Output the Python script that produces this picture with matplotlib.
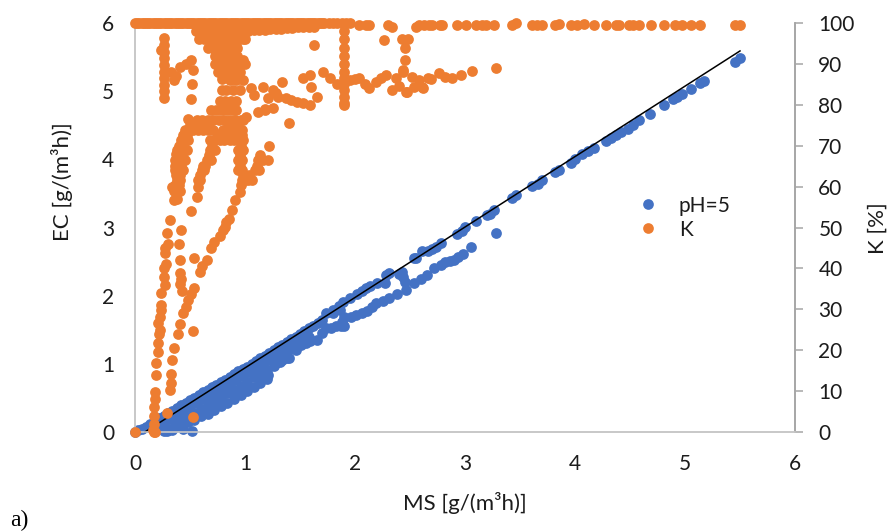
import matplotlib
matplotlib.use("Agg")
import matplotlib.pyplot as plt
from matplotlib.lines import Line2D

plt.rcParams['font.family'] = ['Lato', 'DejaVu Sans']

# ---- pH=5 series: MS, EC
ph_fan_upper_ms = [0.0,0.03,0.06,0.1,0.14,0.18,0.22,0.26,0.3,0.34,0.38,0.42,0.46,0.5,0.54,0.58,0.62,0.66,0.7,0.74,0.78,0.82,0.86,0.9,0.94,0.98,1.02,1.06,1.1,1.14,1.18,1.22,1.26,1.3,1.34,1.38,1.42,1.46,1.5,1.54,1.58,1.62,1.66,1.7]
ph_fan_upper_ec = [0.0,0.03,0.05,0.08,0.12,0.16,0.2,0.24,0.28,0.31,0.35,0.39,0.43,0.47,0.5,0.54,0.58,0.62,0.66,0.69,0.73,0.77,0.81,0.85,0.89,0.92,0.96,1.0,1.04,1.08,1.12,1.16,1.2,1.24,1.28,1.32,1.36,1.4,1.44,1.48,1.52,1.56,1.6,1.64]
ph_fan_a_ms = [0.2,0.26,0.32,0.38,0.44,0.5,0.56,0.62,0.68,0.74,0.8,0.86,0.92,0.98,1.04,1.1,1.16,1.22,1.28,1.34,1.4,1.46,1.52,1.58]
ph_fan_a_ec = [0.07,0.13,0.19,0.24,0.30,0.36,0.42,0.48,0.53,0.59,0.65,0.71,0.76,0.82,0.88,0.94,0.99,1.05,1.11,1.17,1.22,1.28,1.34,1.4]
ph_fan_b_ms = [0.3,0.36,0.42,0.48,0.54,0.6,0.66,0.72,0.78,0.84,0.9,0.96,1.02,1.08,1.14,1.2,1.26,1.32,1.38]
ph_fan_b_ec = [0.05,0.11,0.16,0.22,0.28,0.34,0.39,0.45,0.51,0.57,0.62,0.68,0.74,0.80,0.85,0.91,0.97,1.03,1.08]
ph_fan_low_ms = [0.26,0.3,0.36,0.42,0.48,0.54,0.6,0.66,0.72,0.78,0.84,0.9,0.96,1.02,1.08,1.14,1.2,1.21]
ph_fan_low_ec = [0.02,0.03,0.07,0.1,0.14,0.18,0.23,0.27,0.33,0.38,0.43,0.49,0.55,0.6,0.66,0.72,0.78,0.83]
ph_single_ms = [0.52,0.29,0.34,0.44]
ph_single_ec = [0.02,0.01,0.03,0.05]
ph_lower_ms = [1.28,1.34,1.40,1.46,1.51,1.55,1.59,1.65,1.70,1.74,1.78,1.83,1.87,1.90,1.90,1.88,1.86,1.80,1.96,2.01,2.06,2.11,2.15,2.19,2.25,2.31,2.38,2.46,2.43,2.44,2.45,2.54,2.28,2.31,2.27,2.40,2.60,2.65,2.72,2.78,2.82,2.86,2.90,2.94,2.98,3.05,3.28]
ph_lower_ec = [1.01,1.05,1.08,1.2,1.28,1.3,1.33,1.35,1.45,1.52,1.53,1.55,1.55,1.55,1.69,1.62,1.79,1.75,1.68,1.72,1.75,1.78,1.83,1.89,1.92,1.96,2.02,2.08,2.35,2.27,2.2,2.18,2.30,2.33,2.18,2.32,2.25,2.3,2.4,2.45,2.5,2.51,2.53,2.57,2.61,2.71,2.92]
ph_upper_ms = [1.74,1.80,1.85,1.89,1.95,2.02,2.06,2.10,2.14,2.20,2.55,2.54,2.61,2.66,2.70,2.74,2.78,2.93,2.97,3.0,3.10,3.2,3.23,3.26,3.43,3.46,3.61,3.66,3.70,3.82,3.85,3.96,4.0,4.06,4.12,4.17,4.28,4.33,4.37,4.42,4.48,4.53,4.58,4.68,4.81,4.89,4.93,4.97,5.05,5.14,5.17,5.45,5.5]
ph_upper_ec = [1.74,1.79,1.85,1.91,1.96,2.03,2.07,2.11,2.14,2.18,2.55,2.55,2.65,2.66,2.69,2.72,2.77,2.91,2.95,3.01,3.09,3.18,3.2,3.26,3.43,3.48,3.61,3.64,3.69,3.81,3.84,3.94,4.0,4.08,4.12,4.16,4.27,4.31,4.36,4.4,4.45,4.5,4.57,4.66,4.80,4.89,4.92,4.96,5.03,5.12,5.15,5.43,5.48]

# ---- K series: MS, K
k_top_ms = [0.0,0.04,0.08,0.12,0.16,0.2,0.24,0.28,0.32,0.36,0.4,0.44,0.48,0.52,0.56,0.6,0.64,0.68,0.72,0.76,0.8,0.84,0.88,0.92,0.96,1.0,1.04,1.08,1.12,1.16,1.2,1.24,1.28,1.32,1.36,1.4,1.44,1.48,1.52,1.56,1.6,1.64,1.68,1.72,1.76,1.8,1.84,1.88,1.92,1.95,2.04,2.1,2.13,2.3,2.34,2.55,2.58,2.63,2.67]
k_top_val = [100]*50 + [99.5,99.5,99.5,99.5,99,99,99.5,99.5,99.5]
k_top2_ms = [0.02,0.06,0.1,0.14,0.18,0.22,0.26,0.3,0.34,0.38,0.42,0.46,0.5,0.54,0.58,0.62,0.66,0.7,0.74,0.78,0.82,0.86,0.9,0.94,0.98,1.02,1.06,1.1,1.14,1.18,1.22,1.26,1.3,1.34,1.38,1.42,1.46,1.5,1.54,1.58,1.62,1.66,1.7]
k_top2_val = [100]*43
k_far_ms = [2.70,2.77,2.79,2.93,3.01,3.10,3.15,3.19,3.26,3.43,3.46,3.61,3.65,3.70,3.82,3.85,3.96,4.02,4.08,4.17,4.28,4.37,4.40,4.49,4.53,4.58,4.69,4.81,4.91,4.97,5.05,5.14,5.45,5.50]
k_far_val = [99.5,99.5,99.5,99.5,99.5,99.5,99.5,99.5,99.5,99.5,100,99.5,99.5,99.5,99.5,99.8,99.5,99.5,99.8,99.5,99.5,99.5,99.5,99.5,99.5,99.5,99.5,99.5,99.5,99.5,99.5,99.5,99.5,99.5]
k_funnel_ms = [0.55,0.6,0.65,0.7,0.75,0.8,0.85,0.9,0.95,1.0,1.03,1.08,1.13,1.18,1.23,1.28,1.33,1.38,1.43,1.48,1.53,1.58,1.63,
               0.58,0.63,0.68,0.73,0.78,0.83,0.88,0.93,0.98,1.0,
               0.66,0.71,0.76,0.81,0.86,0.93,
               0.73,0.78,0.83,0.88,0.93,
               0.73,0.78,0.83,0.88,0.93,1.0,
               0.75,0.8,0.85,0.9,0.95]
k_funnel_val = [98,98,98,98,98,98,98,98,98,98,98,98.3,98.3,98.3,98.5,98.5,98.5,98.8,98.8,99,99,99,99,
                96,96,96,96,96,96,96,96,96,96,
                94,94,94,94,94,94,
                92,92,92,92,92,
                90,90,90,90,90,90,
                88,88,88,88,88]
k_funnel_fill_ms = [0.6,0.68,0.76,0.84,0.92,0.98,0.7,0.78,0.86,0.92,0.74,0.82,0.9,0.76,0.84,0.92,0.98,0.78,0.86,0.94]
k_funnel_fill_val = [97,97,97,97,97,97,95,95,95,95,93,93,93,91,91,91,91,89,89,89]
k_col_ms = [1.90,1.90,1.90,1.90,1.90,1.90,1.90,1.90,1.90,1.90,1.90,1.90,0.265,0.265,0.265,0.265,0.265,0.265,0.265,0.265,0.265,0.265,0.24]
k_col_val = [98,96,94,92,90,88,86.5,85,83.5,82,80.5,80,96.3,94.6,93,91.4,89.8,88.1,86.5,84.9,83.3,81.7,93.4]
k_band_ms = [0.33,0.35,0.37,0.41,0.46,0.51,0.53,0.52,0.51,1.63,1.71,1.77,1.84,1.95,2.0,2.04,2.09,2.13,2.19,2.24,2.28,2.37,2.34,2.40,2.46,2.52,2.61,2.66,2.26,2.43,2.48,2.45,2.45,2.44,2.44,2.47,2.58,2.62,2.54,2.69,2.76,2.82,2.88,2.96,3.06,3.28,1.16,1.25,1.34,1.21,1.28,1.37,1.42,1.47,1.53,1.59,1.65,1.6,1.53,1.59,1.25,1.18,1.12,1.01,1.40,1.30,1.05,1.08,1.18]
k_band_val = [88,86,87,89.3,90,91,88.5,85.2,81.3,94.5,88,86.5,85.2,86,86.2,86.5,85,84,85.6,86.5,87.3,86.5,83.6,84.5,83.2,86.9,84.4,86.5,95.8,96,96,93.8,91,88.5,88,83.2,86,84,84.4,86.2,87.7,86.9,86.5,87.3,88.3,88.9,84.4,83.6,85.6,81.6,83,81.6,81.2,80.8,80.4,80,82,84.4,86.5,87.3,79.1,78.8,78.3,77,75.5,82,84,82.5,79]
k_stem_ms = [0.86,0.92,0.98,0.83,0.89,0.95,0.77,0.82,0.87,0.92,0.69,0.74,0.79,0.84,0.89,0.92,0.56,0.61,0.66,0.71,0.76,0.81,0.86,0.91,0.96,0.98]
k_stem_val = [86,86,86,83.6,83.6,83.6,81,81,81,81,78.7,78.7,78.7,78.7,78.7,78.7,76.3,76.3,76.3,76.3,76.3,76.3,76.3,76.3,76.3,76.3]
k_lobe_row74_ms = [0.45,0.49,0.53,0.57,0.62,0.66,0.71,0.80,0.85,0.89,0.93,0.97]
k_lobe_row74_val = [73.8,73.8,73.8,73.8,73.8,73.8,73.8,73.8,73.8,73.8,73.8,73.8]
k_lobe_row71_ms = [0.42,0.45,0.48,0.68,0.72,0.77,0.81,0.86,0.9,0.94,0.98]
k_lobe_row71_val = [71.4,71.4,71.4,71.4,71.4,71.4,71.4,71.4,71.4,71.4,71.4]
k_lobe_row69_ms = [0.38,0.41,0.44,0.47,0.68,0.73,0.94,0.98]
k_lobe_row69_val = [69,69,69,69,69,69,69,69]
k_lobe_row67_ms = [0.36,0.39,0.42,0.45,0.65,0.69,0.94,0.97,1.12,1.16,1.21]
k_lobe_row67_val = [66.5,66.5,66.5,66.5,66.5,66.5,66.5,66.5,66.5,66.5,66.5]
k_lobe_row64_ms = [0.36,0.40,0.44,0.61,0.63,0.94,0.97,1.09,1.13]
k_lobe_row64_val = [64,64,64,64,64,64,64,64,64]
k_lobe_row62_ms = [0.38,0.41,0.57,0.59,0.97,1.0,1.03,1.06]
k_lobe_row62_val = [61.6,61.6,61.6,61.6,61.6,61.6,61.6,61.6]
k_lobe_row59_ms = [0.35,0.38,0.41,0.95,0.57]
k_lobe_row59_val = [59,59,59,58.8,60]
k_lobe_fill_ms = [0.5,0.58,0.66,0.85,0.93,0.44,0.47,0.75,0.83,0.91,0.97,0.4,0.44,0.7,0.96,0.38,0.43,0.67,0.95,1.14,0.38,0.42,0.62,0.95,1.11,0.37,0.41,0.59,0.98,1.04,0.36,0.40,0.96]
k_lobe_fill_val = [75,75,75,75,75,72.5,72.5,72.5,72.5,72.5,72.5,70,70,70,70,67.7,67.7,67.7,67.7,67.7,65,65,65,65,65,62.8,62.8,62.8,62.8,62.8,60.3,60.3,60.3]
k_misc_ms = [0.79,0.79,0.48,0.56,0.51,1.22,0.35,0.38,0.91,0.88,0.85,0.82,0.37,0.40,0.64,0.34,0.36]
k_misc_val = [86.2,83.6,76.5,57.5,54,70,56.7,57,56.7,54.3,52.2,50.2,68,63,65,60,65]
k_low1_ms = [0.32,0.29,0.30,0.27,0.28,0.27,0.26,0.27,0.26,0.24,0.24,0.24,0.23,0.23,0.21,0.21,0.22,0.21,0.19,0.19,0.18,0.18,0.17,0.17,0.17,0.17,0.18,0.16,0.0]
k_low1_val = [51.8,48.6,46,43.7,41,45,38,36,40,33.9,29.8,31,28,25,26.6,21.7,24,19.5,16.8,13.9,9.9,8,6.2,4,2,0,0,0.4,0]
k_low2_ms = [0.42,0.40,0.41,0.41,0.41,0.54,0.59,0.61,0.65,0.69,0.72,0.77,0.80,0.83,0.54,0.51,0.48,0.46,0.44,0.41,0.39,0.35,0.34,0.33,0.32,0.33,0.53,0.29,0.53,0.43,0.42]
k_low2_val = [49.4,46,42,38.8,36.3,42.5,39.2,40.5,42,44.9,46.5,47.8,49.5,51.4,35.1,33.8,32.3,30.5,29,26.5,24,20.5,17.6,14.2,10.3,12,24.7,4.6,3.7,34.5,37.5]

# ---- trend line and axes
trend_ms = [0.09, 5.5]
trend_ec = [0.0, 5.59]
x_ticks = [0, 1, 2, 3, 4, 5, 6]
ec_ticks = [0, 1, 2, 3, 4, 5, 6]
k_ticks = [0, 10, 20, 30, 40, 50, 60, 70, 80, 90, 100]

BLUE = '#4472C4'
ORANGE = '#ED7D31'
GRAY = '#A6A6A6'
LGRAY = '#C8C8C8'
TXT = '#1c1c1c'
FS = 15
LFS = 16
S = 60

fig = plt.figure(figsize=(8.96, 5.31), dpi=100)
ax = fig.add_axes([135/896, 1-432/531, 660/896, 409/531])
ax2 = ax.twinx()

ph_groups = [(ph_fan_upper_ms, ph_fan_upper_ec), (ph_fan_a_ms, ph_fan_a_ec),
             (ph_fan_b_ms, ph_fan_b_ec), (ph_fan_low_ms, ph_fan_low_ec),
             (ph_single_ms, ph_single_ec), (ph_lower_ms, ph_lower_ec),
             (ph_upper_ms, ph_upper_ec)]
for xs, ys in ph_groups:
    ax.scatter(xs, ys, s=S, color=BLUE, linewidths=0, clip_on=False, zorder=3)
ax.plot(trend_ms, trend_ec, color='black', lw=1.1, zorder=4, clip_on=False)

k_groups = [(k_top_ms, k_top_val), (k_top2_ms, k_top2_val), (k_far_ms, k_far_val),
            (k_funnel_ms, k_funnel_val), (k_funnel_fill_ms, k_funnel_fill_val),
            (k_col_ms, k_col_val), (k_band_ms, k_band_val),
            (k_stem_ms, k_stem_val), (k_lobe_row74_ms, k_lobe_row74_val),
            (k_lobe_row71_ms, k_lobe_row71_val), (k_lobe_row69_ms, k_lobe_row69_val),
            (k_lobe_row67_ms, k_lobe_row67_val), (k_lobe_row64_ms, k_lobe_row64_val),
            (k_lobe_row62_ms, k_lobe_row62_val), (k_lobe_row59_ms, k_lobe_row59_val),
            (k_lobe_fill_ms, k_lobe_fill_val),
            (k_misc_ms, k_misc_val), (k_low1_ms, k_low1_val), (k_low2_ms, k_low2_val)]
for xs, ys in k_groups:
    ax2.scatter(xs, ys, s=S, color=ORANGE, linewidths=0, clip_on=False, zorder=3)

ax.set_xlim(0, 6)
ax.set_ylim(0, 6)
ax2.set_ylim(0, 100)
ax.set_xticks(x_ticks)
ax.set_yticks(ec_ticks)
ax2.set_yticks(k_ticks)

for a in (ax, ax2):
    a.spines['top'].set_visible(False)
    a.spines['left'].set_color(LGRAY)
    a.spines['bottom'].set_color(LGRAY)
    a.spines['right'].set_color(GRAY)
    for s in ('left', 'bottom', 'right'):
        a.spines[s].set_linewidth(1.2)
ax.tick_params(axis='y', length=0, labelsize=FS, labelcolor=TXT, pad=15)
ax.tick_params(axis='x', length=0, labelsize=FS, labelcolor=TXT, pad=16)
ax2.tick_params(axis='y', length=5.8, width=1.1, color=GRAY, labelsize=FS, labelcolor=TXT, pad=11)

ax.set_xlabel('MS [g/(m³h)]', fontsize=LFS, color=TXT, va='center', ha='center')
ax.xaxis.set_label_coords(465/896, 1-503/531, transform=fig.transFigure)
ax.set_ylabel('EC [g/(m³h)]', fontsize=LFS, color=TXT, va='center', ha='center')
ax.yaxis.set_label_coords(62/896, 1-182/531, transform=fig.transFigure)
ax2.set_ylabel('K [%]', fontsize=LFS, color=TXT, va='center', ha='center', rotation=90)
ax2.yaxis.set_label_coords(878/896, 1-228/531, transform=fig.transFigure)

handles = [Line2D([], [], ls='', marker='o', ms=7.7, color=BLUE, mew=0),
           Line2D([], [], ls='', marker='o', ms=7.7, color=ORANGE, mew=0)]
ax2.legend(handles, ['pH=5', 'K'], frameon=False, fontsize=FS, loc='upper left',
           bbox_to_anchor=(0.745, 0.578), labelspacing=0.2, handletextpad=0.5,
           borderpad=0, borderaxespad=0, labelcolor=TXT)

fig.text(10/896, 1-520/531, 'a)', fontsize=17, family='Liberation Serif', color='black', va='center')
fig.savefig('out.png', dpi=100)
